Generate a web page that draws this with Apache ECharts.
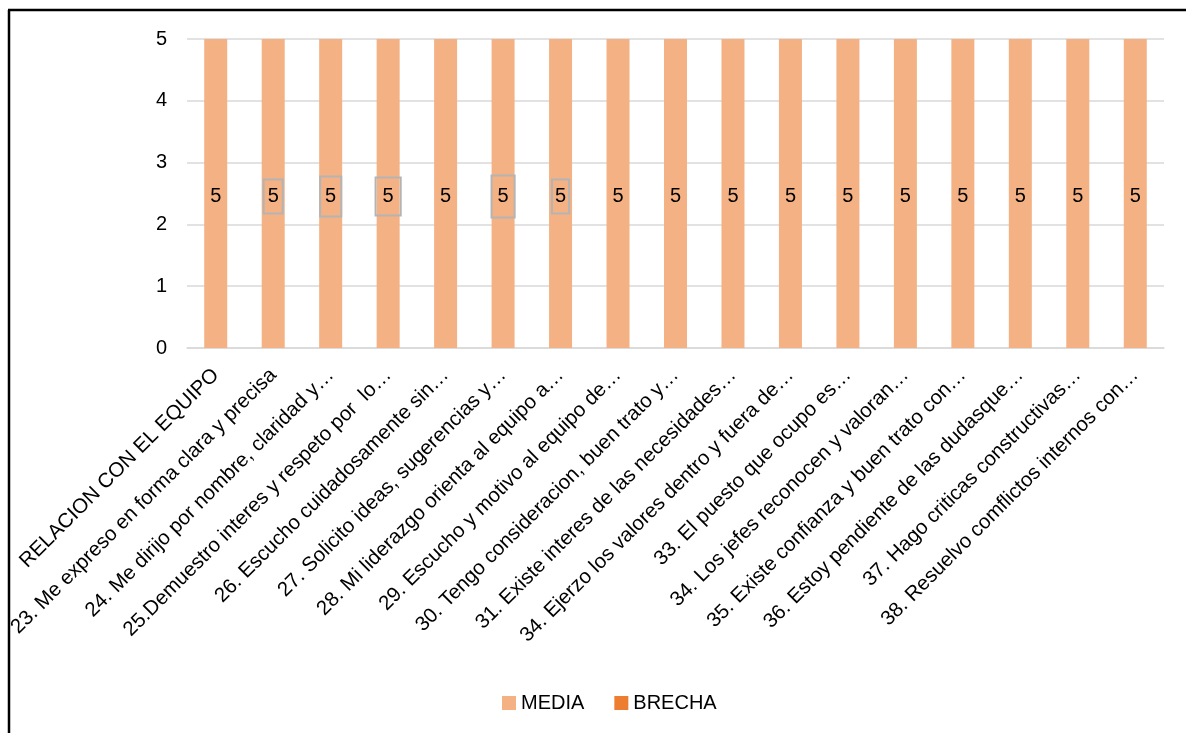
<!DOCTYPE html>
<html>
<head>
<meta charset="utf-8">
<script src="https://cdn.jsdelivr.net/npm/echarts@6/dist/echarts.min.js"></script>
<style>html,body{margin:0;padding:0;background:#fff}#c{width:1186px;height:733px}</style>
</head>
<body>
<div id="c"></div>
<script>
const categories = [
  "RELACION CON EL EQUIPO",
  "23. Me expreso en forma clara y precisa",
  "24. Me dirijo por nombre, claridad y…",
  "25.Demuestro interes y respeto por  lo…",
  "26. Escucho cuidadosamente sin…",
  "27. Solicito ideas, sugerencias y…",
  "28. Mi liderazgo orienta al equipo a…",
  "29. Escucho y motivo al equipo de…",
  "30. Tengo consideracion, buen trato y…",
  "31. Existe interes de las necesidades…",
  "34. Ejerzo los valores dentro y fuera de…",
  "33. El puesto que ocupo es…",
  "34. Los jefes reconocen y valoran…",
  "35. Existe confianza y buen trato con…",
  "36. Estoy pendiente de las dudasque…",
  "37. Hago criticas constructivas…",
  "38. Resuelvo comflictos internos con…"
];
const media = [5,5,5,5,5,5,5,5,5,5,5,5,5,5,5,5,5];
const brecha = [0,0,0,0,0,0,0,0,0,0,0,0,0,0,0,0,0];
const boxedLabels = [1,2,3,5,6];

const FONT = "'Liberation Sans', Arial, sans-serif";
const chart = echarts.init(document.getElementById('c'), null, {renderer:'canvas'});

const boxPad = {1:[8,4,6,4], 2:[11,5,9,5], 3:[10,7,8,7], 5:[12,6,10,6], 6:[8,3,6,3]};
const mediaData = media.map((v,i) => {
  if (boxedLabels.includes(i)) {
    return {value: v, label: {borderColor:'#b4b4b4', borderWidth:2, padding: boxPad[i]}};
  }
  return v;
});

chart.setOption({
  animation: false,
  textStyle: {fontFamily: FONT},
  grid: {left: 187, right: 22, top: 39, bottom: 385, containLabel: false, outerBoundsMode: 'none'},
  legend: {
    data: ['MEDIA','BRECHA'],
    left: 497, top: 688,
    itemWidth: 14, itemHeight: 14, itemGap: 30,
    icon: 'rect',
    textStyle: {fontSize: 20, color: '#000', fontFamily: FONT}
  },
  xAxis: {
    type: 'category',
    data: categories,
    axisLine: {lineStyle: {color: '#d9d9d9', width: 1.5}},
    axisTick: {show: false},
    axisLabel: {interval: 0, rotate: 45, fontSize: 20.5, color: '#000', margin: 24, fontFamily: FONT}
  },
  yAxis: {
    type: 'value', min: 0, max: 5, interval: 1,
    axisLine: {show: false},
    axisTick: {show: false},
    splitLine: {lineStyle: {color: '#d9d9d9', width: 1.5}},
    axisLabel: {fontSize: 20, color: '#000', margin: 20, fontFamily: FONT}
  },
  series: [
    {
      name: 'MEDIA', type: 'bar', stack: 's', data: mediaData, barWidth: 23,
      itemStyle: {color: '#F4B183'},
      label: {show: true, position: 'inside', offset: [0, 3], fontSize: 20, color: '#000', fontFamily: FONT}
    },
    {
      name: 'BRECHA', type: 'bar', stack: 's', data: brecha, barWidth: 23,
      itemStyle: {color: '#ED7D31'}
    }
  ],
  graphic: [
    {type: 'rect', shape: {x: 0, y: 0, width: 8, height: 733}, style: {fill: '#fff'}, z: 100},
    {type: 'line', shape: {x1: 9, y1: 10, x2: 9, y2: 733}, style: {stroke: '#000', lineWidth: 2.5}, z: 101},
    {type: 'line', shape: {x1: 8, y1: 10, x2: 1186, y2: 10}, style: {stroke: '#000', lineWidth: 2.5}, z: 101}
  ]
});
</script>
</body>
</html>
